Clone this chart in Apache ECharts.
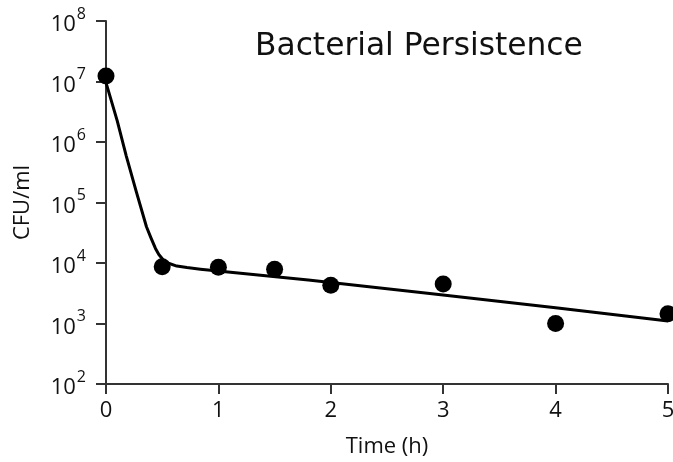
<!DOCTYPE html>
<html>
<head>
<meta charset="utf-8">
<script src="https://cdn.jsdelivr.net/npm/echarts@6/dist/echarts.min.js"></script>
<style>html,body{margin:0;padding:0;background:#fff}#c{width:673px;height:462px}</style>
</head>
<body>
<div id="c"></div>
<script>
// Measured data points (time in h, CFU/ml)
var pointTimes = [0, 0.5, 1, 1.5, 2, 3, 4, 5];
var pointValues = [1.23e7, 8.7e3, 8.5e3, 7.9e3, 4.3e3, 4.5e3, 1.0e3, 1.45e3];
// Fitted curve
var curveTimes = [0, 0.1, 0.18, 0.27, 0.36, 0.40, 0.44, 0.47, 0.51, 0.55, 0.63, 0.72, 0.84, 1.8, 2.9, 4, 5];
var curveValues = [9.6e6, 2.24e6, 5.9e5, 1.5e5, 3.98e4, 2.6e4, 1.74e4, 1.38e4, 1.12e4, 1.0e4, 8.9e3, 8.4e3, 7.9e3, 5.25e3, 3.09e3, 1.82e3, 1.10e3];
// Axis ticks
var xTicks = [0, 1, 2, 3, 4, 5];
var yExponents = [2, 3, 4, 5, 6, 7, 8];
var titleText = 'Bacterial Persistence';
var xName = 'Time (h)';
var yName = 'CFU/ml';

var chart = echarts.init(document.getElementById('c'), null, {renderer: 'canvas'});
var axisColor = '#333';
var font = 'Open Sans';
chart.setOption({
  animation: false,
  backgroundColor: '#fff',
  graphic: [{
    type: 'text', left: 255, top: 31,
    style: {text: titleText, font: '31.3px "DejaVu Sans"', fill: '#111'}
  }],
  grid: {left: 106, right: 5, top: 21, bottom: 78, containLabel: false, outerBoundsMode: 'none'},
  xAxis: {
    type: 'value', min: xTicks[0], max: xTicks[xTicks.length - 1], interval: 1,
    name: xName, nameLocation: 'middle', nameGap: 52,
    nameTextStyle: {fontFamily: font, fontSize: 22, color: '#111'},
    axisLine: {lineStyle: {color: axisColor, width: 2}},
    axisTick: {show: true, length: 10, lineStyle: {color: axisColor, width: 2}},
    axisLabel: {fontFamily: font, fontSize: 22, color: '#111', margin: 16},
    splitLine: {show: false}
  },
  yAxis: {
    type: 'log', logBase: 10,
    min: Math.pow(10, yExponents[0]), max: Math.pow(10, yExponents[yExponents.length - 1]),
    name: yName, nameLocation: 'middle', nameGap: 72,
    nameTextStyle: {fontFamily: font, fontSize: 22, color: '#111'},
    axisLine: {show: true, onZero: false, lineStyle: {color: axisColor, width: 2}},
    axisTick: {show: true, length: 10, lineStyle: {color: axisColor, width: 2}},
    axisLabel: {
      margin: 20,
      formatter: function (v) {
        var e = Math.round(Math.log10(v));
        return '{b|10}{s|' + e + '}';
      },
      rich: {
        b: {fontFamily: font, fontSize: 22, color: '#111', verticalAlign: 'bottom', lineHeight: 30},
        s: {fontFamily: font, fontSize: 16, color: '#111', verticalAlign: 'top', lineHeight: 30, padding: [0, 0, 0, 1]}
      }
    },
    splitLine: {show: false}
  },
  series: [{
    type: 'line',
    data: curveTimes.map(function (t, i) { return [t, curveValues[i]]; }),
    smooth: false,
    showSymbol: false, symbol: 'none',
    lineStyle: {color: '#000', width: 3, join: 'round'},
    z: 2
  }, {
    type: 'scatter',
    data: pointTimes.map(function (t, i) { return [t, pointValues[i]]; }),
    symbol: 'circle', symbolSize: 17,
    itemStyle: {color: '#000', opacity: 1},
    clip: false,
    z: 3
  }]
});
</script>
</body>
</html>
